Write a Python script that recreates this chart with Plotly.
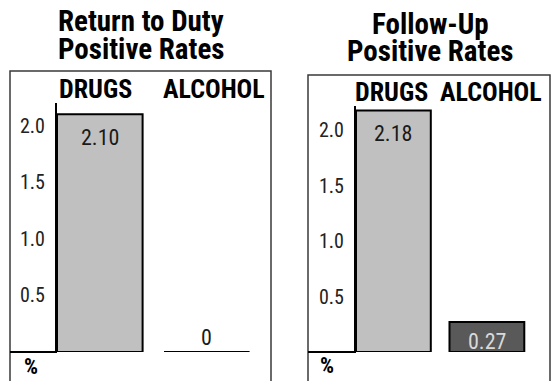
import plotly.graph_objects as go

# ---- data -------------------------------------------------------------
categories = ["DRUGS", "ALCOHOL"]
return_to_duty_rates = [2.10, 0.0]
follow_up_rates = [2.18, 0.27]
return_to_duty_title = ["Return to Duty", "Positive Rates"]
follow_up_title = ["Follow-Up", "Positive Rates"]
y_tick_values = [0.5, 1.0, 1.5, 2.0]
unit_label = "%"

# ---- canvas helpers ---------------------------------------------------
W, H = 553, 381
NARROW = "Roboto Condensed, Liberation Sans Narrow, Arial Narrow, sans-serif"


def px(x):
    return x / W


def py(y):
    return 1 - y / H


def fmt(v):
    return "0" if v == 0 else f"{v:.2f}"


fig = go.Figure()

panels = [
    dict(values=return_to_duty_rates, title=return_to_duty_title,
         colors=["#c0c0c0", "#c0c0c0"], label_colors=["#1a1a1a", "#1a1a1a"],
         box=(10, 71, 271), axis_x=57, axis_top=103, yr=2.2, xr=1.6,
         title_x=141, title_y=(21, 49), head_x=(95, 214), head_y=88.5,
         pct=(31, 366), xa="x", ya="y", small_shift=15),
    dict(values=follow_up_rates, title=follow_up_title,
         colors=["#c0c0c0", "#595959"], label_colors=["#1a1a1a", "#d9d9d9"],
         box=(308, 75, 550), axis_x=356, axis_top=106, yr=2.22, xr=1.675,
         title_x=430, title_y=(24, 51), head_x=(391, 491), head_y=92,
         pct=(327, 365), xa="x2", ya="y2", small_shift=11),
]

BASE_Y = 352
annotations = []
shapes = []

for i, p in enumerate(panels):
    fig.add_trace(go.Bar(
        x=list(range(len(categories))), y=p["values"], width=0.8,
        marker=dict(color=p["colors"], line=dict(color="black", width=2)),
        xaxis=p["xa"], yaxis=p["ya"], showlegend=False, hoverinfo="skip",
    ))

    sfx = "" if i == 0 else "2"
    x0, top, x1 = p["box"]
    fig.layout["xaxis" + sfx] = dict(
        domain=[px(p["axis_x"]), px(x1)], range=[-0.4, p["xr"]],
        showline=False, showgrid=False, zeroline=False, showticklabels=False,
        anchor="y" + sfx, fixedrange=True,
    )
    fig.layout["yaxis" + sfx] = dict(
        domain=[py(BASE_Y), py(p["axis_top"])], range=[0, p["yr"]],
        showline=True, linecolor="black", linewidth=2,
        showgrid=False, zeroline=False, ticks="",
        tickvals=y_tick_values, tickformat=".1f", ticklabelstandoff=6,
        tickfont=dict(family=NARROW, size=20, color="#222222"),
        anchor="x" + sfx, fixedrange=True,
    )

    # panel frame (open at the bottom)
    shapes.append(dict(type="rect", xref="paper", yref="paper",
                       x0=px(x0), x1=px(x1), y0=-0.1, y1=py(top),
                       line=dict(color="#3a3a3a", width=1.5), layer="below"))
    # baseline under the tick labels
    shapes.append(dict(type="line", xref="paper", yref="paper",
                       x0=px(x0), x1=px(p["axis_x"]), y0=py(BASE_Y), y1=py(BASE_Y),
                       line=dict(color="black", width=2)))

    # titles (two tightly leaded lines)
    for line, ty in zip(p["title"], p["title_y"]):
        annotations.append(dict(text=line, xref="paper", yref="paper",
                                x=px(p["title_x"]), y=py(ty), showarrow=False,
                                xanchor="center", yanchor="middle",
                                font=dict(family=NARROW, size=29, color="black",
                                          weight="bold")))
    # category headers
    for cat, hx in zip(categories, p["head_x"]):
        annotations.append(dict(text=cat, xref="paper", yref="paper",
                                x=px(hx), y=py(p["head_y"]), showarrow=False,
                                xanchor="center", yanchor="middle",
                                font=dict(family=NARROW, size=26, color="black",
                                          weight="bold")))
    # value labels
    for j, v in enumerate(p["values"]):
        if v >= 0.5:
            y, shift = v, -23
        else:
            y, shift = 0, p["small_shift"]
        annotations.append(dict(text=fmt(v), xref=p["xa"], yref=p["ya"],
                                x=j, y=y, yshift=shift, showarrow=False,
                                xanchor="center", yanchor="middle",
                                font=dict(family=NARROW, size=22,
                                          color=p["label_colors"][j])))
    # unit label
    annotations.append(dict(text=unit_label, xref="paper", yref="paper",
                            x=px(p["pct"][0]), y=py(p["pct"][1]), showarrow=False,
                            xanchor="center", yanchor="middle", borderpad=0,
                            font=dict(family=NARROW, size=22, color="black",
                                      weight="bold")))

fig.update_layout(
    width=W, height=H, margin=dict(l=0, r=0, t=0, b=0),
    paper_bgcolor="white", plot_bgcolor="white",
    bargap=0.2, annotations=annotations, shapes=shapes,
)

fig.write_html("out.html")
